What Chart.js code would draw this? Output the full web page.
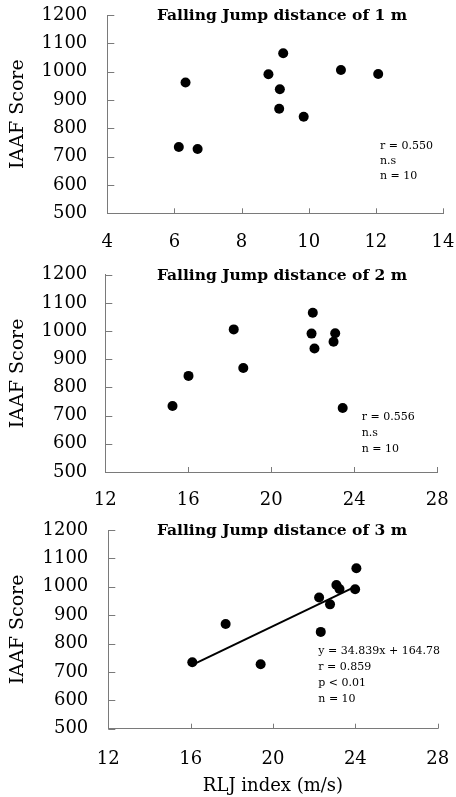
<!DOCTYPE html>
<html><head><meta charset="utf-8">
<script src="https://cdn.jsdelivr.net/npm/chart.js@4"></script>
<style>
html,body{margin:0;padding:0;background:#fff;width:456px;height:797px;overflow:hidden;}
canvas{position:absolute;left:0;}
</style></head><body>
<canvas id="c1" width="456" height="258" style="top:0px"></canvas>
<canvas id="c2" width="456" height="258" style="top:258px"></canvas>
<canvas id="c3" width="456" height="281" style="top:516px"></canvas>
<script>
// ---- data ----
const panelTitles = ['Falling Jump distance of 1 m', 'Falling Jump distance of 2 m', 'Falling Jump distance of 3 m'];
const yTitle = 'IAAF Score';
const xTitle = 'RLJ index (m/s)';

const rlj1m = [6.13, 6.33, 6.69, 8.80, 9.14, 9.12, 9.24, 9.85, 10.96, 12.07];
const score1m = [734, 962, 727, 991, 938, 869, 1065, 841, 1006, 992];

const rlj2m = [15.24, 16.01, 18.19, 18.65, 22.00, 21.94, 22.08, 23.08, 23.00, 23.44];
const score2m = [734, 841, 1006, 869, 1065, 991, 938, 992, 962, 727];

const rlj3m = [16.08, 17.70, 19.40, 22.32, 22.24, 22.77, 23.08, 23.23, 23.99, 24.05];
const score3m = [734, 869, 727, 841, 962, 938, 1006, 992, 991, 1065];

// regression line of panel 3 (end points, y = 34.839x + 164.78)
const fit3mX = [16.08, 24.05];
const fit3mY = [725, 1002];

const stats1m = ['r = 0.550', 'n.s', 'n = 10'];
const stats2m = ['r = 0.556', 'n.s', 'n = 10'];
const stats3m = ['y = 34.839x + 164.78', 'r = 0.859', 'p < 0.01', 'n = 10'];

const xTicks1m = [4, 6, 8, 10, 12, 14];
const xTicks23m = [12, 16, 20, 24, 28];
const yTicks = [500, 600, 700, 800, 900, 1000, 1100, 1200];

// ---- drawing ----
const FONT = '"DejaVu Serif", serif';
const AXIS = '#7a7a7a';

const decoPlugin = {
  id: 'deco',
  afterDraw(chart) {
    const o = chart.options.plugins.deco;
    const ctx = chart.ctx;
    const xs = chart.scales.x, ys = chart.scales.y;
    const a = chart.chartArea;
    ctx.save();
    // inward tick marks
    ctx.strokeStyle = AXIS;
    ctx.lineWidth = 1;
    ctx.beginPath();
    xs.ticks.forEach(t => {
      const px = Math.round(xs.getPixelForValue(t.value)) + 0.5;
      ctx.moveTo(px, a.bottom);
      ctx.lineTo(px, a.bottom - 5);
    });
    ys.ticks.forEach(t => {
      const py = Math.round(ys.getPixelForValue(t.value)) + 0.5;
      ctx.moveTo(a.left, py);
      ctx.lineTo(a.left + 7, py);
    });
    ctx.stroke();
    // panel title
    ctx.fillStyle = '#000';
    ctx.font = 'bold 15.5px ' + FONT;
    ctx.textAlign = 'center';
    ctx.textBaseline = 'middle';
    ctx.fillText(o.title, o.titleX, a.top + o.titleDy);
    // statistics text
    ctx.font = '11px ' + FONT;
    ctx.textAlign = 'left';
    o.stats.forEach((s, i) => ctx.fillText(s, o.statX, o.statY + i * o.statGap));
    ctx.restore();
  }
};

function makePanel(id, xs, ys, xMin, xMax, cfg) {
  const datasets = [{
    type: 'scatter', data: xs.map((x, i) => ({x: x, y: ys[i]})),
    backgroundColor: '#000', borderWidth: 0, pointRadius: 5, pointHoverRadius: 5
  }];
  if (cfg.fitX) {
    datasets.push({
      type: 'line', data: cfg.fitX.map((x, i) => ({x: x, y: cfg.fitY[i]})),
      borderColor: '#000', borderWidth: 2, pointRadius: 0, fill: false, tension: 0
    });
  }
  const plain = v => String(v);
  return new Chart(document.getElementById(id), {
    type: 'scatter',
    data: {datasets},
    options: {
      responsive: false, animation: false, events: [],
      layout: {padding: {left: 0, right: cfg.right, top: cfg.top, bottom: 0}},
      plugins: {
        legend: {display: false}, tooltip: {enabled: false},
        deco: {title: cfg.title, titleX: 282, titleDy: 1, stats: cfg.stats, statX: cfg.statX, statY: cfg.statY, statGap: cfg.statGap}
      },
      scales: {
        x: {
          type: 'linear', min: xMin, max: xMax,
          afterBuildTicks: s => { s.ticks = cfg.xTicks.map(v => ({value: v})); },
          ticks: {color: '#000', font: {family: FONT, size: 18}, padding: cfg.xPad, maxRotation: 0, autoSkip: false, callback: plain},
          grid: {display: false, drawTicks: false},
          border: {display: true, color: AXIS, width: 1},
          title: cfg.xTitle ? {display: true, text: cfg.xTitle, color: '#000', font: {family: FONT, size: 18}, padding: {top: 0, bottom: 0}} : {display: false},
          afterFit: s => { s.height = cfg.xHeight; s.paddingLeft = 0; s.paddingRight = 0; }
        },
        y: {
          type: 'linear', min: 500, max: 1200,
          afterBuildTicks: s => { s.ticks = yTicks.map(v => ({value: v})); },
          ticks: {color: '#000', font: {family: FONT, size: 18}, padding: cfg.yPad, autoSkip: false, callback: plain},
          grid: {display: false, drawTicks: false},
          border: {display: true, color: AXIS, width: 1},
          title: {display: true, text: yTitle, color: '#000', font: {family: FONT, size: 19}, padding: {top: 7, bottom: 0}},
          afterFit: s => { s.width = cfg.yWidth; s.paddingTop = 0; s.paddingBottom = 0; }
        }
      }
    },
    plugins: [decoPlugin]
  });
}

makePanel('c1', rlj1m, score1m, 4, 14, {
  title: panelTitles[0], xTicks: xTicks1m, right: 13, top: 15, xHeight: 44.7, yWidth: 107.3,
  xPad: 18, yPad: 20, stats: stats1m, statX: 380, statY: 145.7, statGap: 15
});
makePanel('c2', rlj2m, score2m, 12, 28, {
  title: panelTitles[1], xTicks: xTicks23m, right: 18.7, top: 16.7, xHeight: 44, yWidth: 105.3,
  xPad: 18, yPad: 18, stats: stats2m, statX: 361.7, statY: 158.7, statGap: 16
});
makePanel('c3', rlj3m, score3m, 12, 28, {
  title: panelTitles[2], xTicks: xTicks23m, right: 18.3, top: 14, xHeight: 68.3, yWidth: 108.3,
  xPad: 20, yPad: 20, stats: stats3m, statX: 318.3, statY: 134.7, statGap: 16,
  fitX: fit3mX, fitY: fit3mY, xTitle: xTitle
});
</script>
</body></html>
